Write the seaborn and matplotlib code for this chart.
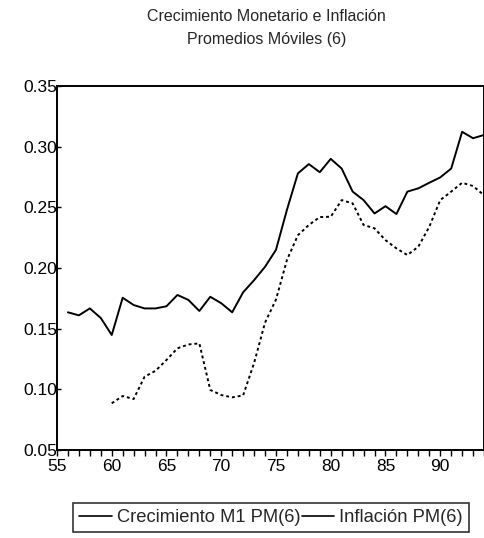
import matplotlib
matplotlib.use("Agg")
import matplotlib.pyplot as plt
import seaborn as sns
import pandas as pd
import numpy as np
from matplotlib.lines import Line2D

years_m1 = list(range(56, 95))
m1 = [0.1635, 0.161, 0.1667, 0.1588, 0.1448, 0.1755, 0.1695, 0.1667, 0.1667, 0.1685,
      0.1778, 0.1737, 0.1646, 0.1763, 0.171, 0.1635, 0.180, 0.190, 0.201, 0.215,
      0.248, 0.278, 0.2857, 0.279, 0.290, 0.282, 0.263, 0.256, 0.245, 0.251,
      0.2445, 0.263, 0.2657, 0.2703, 0.2747, 0.282, 0.3123, 0.307, 0.3097]

years_inf = list(range(60, 95))
inf = [0.0885, 0.0945, 0.092, 0.1104, 0.1153, 0.1242, 0.1338, 0.137, 0.1379, 0.0995,
       0.0953, 0.0934, 0.095, 0.1217, 0.155, 0.174, 0.2066, 0.227, 0.2355, 0.242,
       0.2423, 0.256, 0.2533, 0.2355, 0.2327, 0.223, 0.2162, 0.2107, 0.2176, 0.234,
       0.256, 0.263, 0.2703, 0.2676, 0.260]

label_m1 = "Crecimiento M1 PM(6)"
label_inf = "Inflación PM(6)"
title = "Crecimiento Monetario e Inflación\nPromedios Móviles (6)"
yticks = [0.05, 0.10, 0.15, 0.20, 0.25, 0.30, 0.35]
ytick_labels = ["0.05", "0.10", "0.15", "0.20", "0.25", "0.30", "0.35"]
xticks = [55, 60, 65, 70, 75, 80, 85, 90]
xtick_labels = ["55", "60", "65", "70", "75", "80", "85", "90"]

df = pd.concat([
    pd.DataFrame({"year": years_m1, "value": m1, "serie": label_m1}),
    pd.DataFrame({"year": years_inf, "value": inf, "serie": label_inf}),
])

sns.set_theme(style="white")
plt.rcParams['font.family'] = ['Liberation Sans', 'DejaVu Sans']

fig = plt.figure(figsize=(4.85, 5.38), dpi=100)
ax = fig.add_axes([0.1175, 0.1636, 0.8805, 0.6764])

sns.lineplot(data=df[df.serie == label_m1], x="year", y="value", ax=ax,
             color="black", linewidth=1.4, legend=False)
sns.lineplot(data=df[df.serie == label_inf], x="year", y="value", ax=ax,
             color="black", linewidth=1.4, linestyle=(0, (1.5, 1.5)), legend=False)

ax.set_xlim(55, 94)
ax.set_ylim(0.05, 0.35)
ax.set_xticks(xticks)
ax.set_xticklabels(xtick_labels)
ax.set_xticks(range(55, 95), minor=True)
ax.set_yticks(yticks)
ax.set_yticklabels(ytick_labels)
ax.set_xlabel("")
ax.set_ylabel("")
for s in ax.spines.values():
    s.set_color("black")
    s.set_linewidth(1.4)
ax.tick_params(axis="x", which="both", direction="out", length=4, width=1, color="black",
               bottom=True, labelsize=12.5, pad=2.5, labelcolor="black")
ax.tick_params(axis="y", which="both", direction="in", length=3, width=1, color="black",
               left=True, labelsize=12.5, pad=0, labelcolor="black")

fig.text(0.549, 0.983, title, ha="center", va="top", fontsize=11.5, linespacing=1.65)

handles = [Line2D([0], [0], color="black", lw=1.2),
           Line2D([0], [0], color="black", lw=1.2)]
leg = fig.legend(handles, [label_m1, label_inf], loc="center", ncol=2,
                 bbox_to_anchor=(0.559, 0.038), frameon=True, fontsize=13.2,
                 handlelength=1.75, handletextpad=0.3, columnspacing=0.05,
                 borderpad=0.35, fancybox=False)
leg.get_frame().set_edgecolor("black")
leg.get_frame().set_linewidth(1.2)

fig.savefig("out.png", dpi=100, facecolor="white")
